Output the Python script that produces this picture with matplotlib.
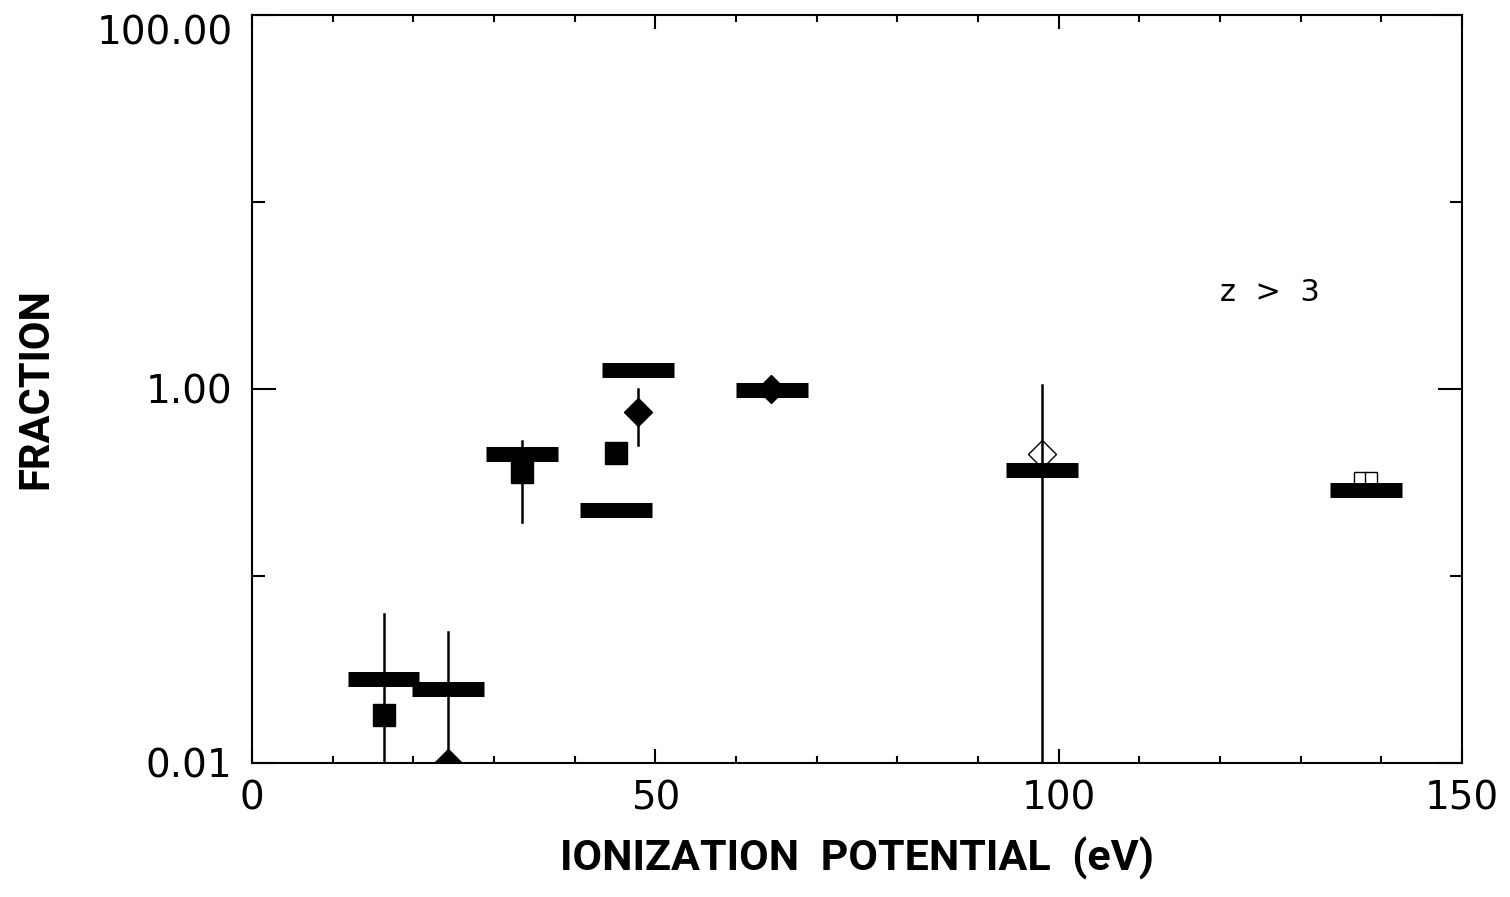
import matplotlib
matplotlib.use("Agg")
import matplotlib.pyplot as plt
from matplotlib.ticker import FixedLocator, NullFormatter

# horizontal bars (model values)
bar_x = [16.3, 24.3, 33.5, 45.1, 47.85, 64.5, 97.9, 138.1]
bar_y = [0.028, 0.025, 0.447, 0.224, 1.27, 0.99, 0.367, 0.288]
bar_halfwidth = 4.45

# filled squares
sq_x = [16.3, 33.5, 45.1]
sq_y = [0.018, 0.36, 0.455]
sq_lo = [0.0001, 0.195, None]
sq_hi = [0.063, 0.53, None]

# filled diamonds
dia_x = [24.3, 47.9, 64.4]
dia_y = [0.01, 0.75, 1.0]
dia_lo = [0.0001, 0.50, None]
dia_hi = [0.050, 1.0, None]

# open diamond
odia_x = [97.9]
odia_y = [0.45]
odia_lo = [0.0001]
odia_hi = [1.05]

# open squares
osq_x = [137.3, 138.7]
osq_y = [0.336, 0.336]

label_font = ["Roboto", "DejaVu Sans"]

fig = plt.figure(figsize=(15.1, 8.97), dpi=100)
ax = fig.add_axes([0.1669, 0.1494, 0.8013, 0.8339])
ax.set_yscale("log")
ax.set_xlim(0, 150)
ax.set_ylim(0.01, 100)

def draw_errs(xs, los, his):
    for x, lo, hi in zip(xs, los, his):
        if lo is None:
            continue
        ax.plot([x, x], [lo, hi], color="black", lw=1.8, zorder=2)

draw_errs(sq_x, sq_lo, sq_hi)
draw_errs(dia_x, dia_lo, dia_hi)
draw_errs(odia_x, odia_lo, odia_hi)

ax.plot(sq_x, sq_y, ls="none", marker="s", ms=15.8, color="black", zorder=3)
ax.plot(dia_x, dia_y, ls="none", marker="D", ms=14.6, color="black", zorder=3)
ax.plot(odia_x, odia_y, ls="none", marker="D", ms=14.6, mfc="white",
        mec="black", mew=1.0, zorder=1)
ax.plot(osq_x, osq_y, ls="none", marker="s", ms=8.0, mfc="white",
        mec="black", mew=1.0, zorder=1)

for x, y in zip(bar_x, bar_y):
    ax.hlines(y, x - bar_halfwidth, x + bar_halfwidth, colors="black",
              lw=10.8, zorder=4)

ax.text(120, 3.3, "z  >  3", fontsize=22, ha="left", va="center")

# ticks
ax.xaxis.set_major_locator(FixedLocator([0, 50, 100, 150]))
ax.xaxis.set_minor_locator(FixedLocator(range(0, 151, 10)))
ax.yaxis.set_major_locator(FixedLocator([0.01, 1.0, 100.0]))
ax.yaxis.set_minor_locator(FixedLocator([0.1, 10.0]))
ax.yaxis.set_minor_formatter(NullFormatter())
ax.set_yticklabels(["0.01", "1.00", "100.00"])
ax.tick_params(axis="both", which="both", direction="in", top=True, right=True,
               width=1.5, labelsize=28, colors="black")
ax.tick_params(axis="x", which="major", length=10, pad=12)
ax.tick_params(axis="x", which="minor", length=5)
ax.tick_params(axis="y", which="major", length=17, pad=14)
ax.tick_params(axis="y", which="minor", length=9)
for s in ax.spines.values():
    s.set_linewidth(1.5)
ax.get_yticklabels()[2].set_va("top")

ax.set_xlabel("IONIZATION  POTENTIAL  (eV)", fontsize=31, fontweight="bold",
              family=label_font, labelpad=14)
ax.set_ylabel("FRACTION", fontsize=30, fontweight="bold", family=label_font)
ax.yaxis.set_label_coords(-0.1614, 0.5)

fig.savefig("out.png", dpi=100)
